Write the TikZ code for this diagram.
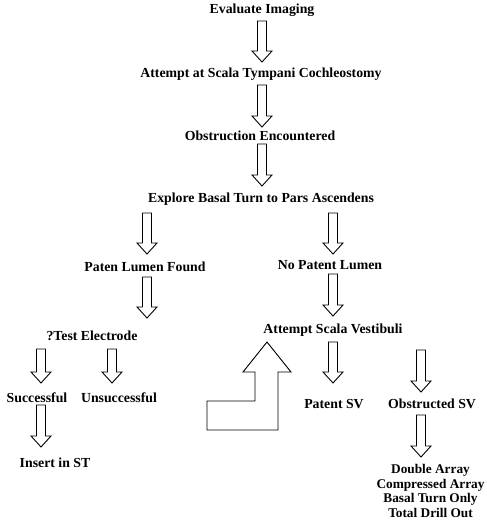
\documentclass[tikz,border=0pt]{standalone}
\usepackage{fontspec}
\setmainfont{Liberation Serif}
\newcommand\darr[3]{\draw[blk] (#1-4.5,#2) -- (#1+4.5,#2) -- (#1+4.5,#3-11) -- (#1+10,#3-11) -- (#1,#3) -- (#1-10,#3-11) -- (#1-4.5,#3-11) -- cycle;}
\begin{document}
\begin{tikzpicture}[x=1pt,y=-1pt,
  lbl/.style={font=\fontsize{13.8}{14}\selectfont\bfseries, inner sep=0pt, anchor=base},
  blk/.style={draw=black, line width=0.9pt, line join=miter, fill=white}]
\useasboundingbox (0,0) rectangle (487,525);
\node[lbl] (ev) at (262,13) {Evaluate Imaging};
\node[lbl] (at) at (261,77) {Attempt at Scala Tympani Cochleostomy};
\node[lbl] (ob) at (260,140) {Obstruction Encountered};
\node[lbl] (ex) at (261,202) {Explore Basal Turn to Pars Ascendens};
\node[lbl] (pl) at (145,271) {Paten Lumen Found};
\node[lbl] (np) at (330,269) {No Patent Lumen};
\node[lbl] (te) at (92,340) {?Test Electrode};
\node[lbl] (sv) at (333,333) {Attempt Scala Vestibuli};
\node[lbl] (su) at (37,402) {Successful};
\node[lbl] (un) at (119,402) {Unsuccessful};
\node[lbl] (ins) at (55,467) {Insert in ST};
\node[lbl] (psv) at (334,408) {Patent SV};
\node[lbl] (osv) at (432,408) {Obstructed SV};
\node[lbl, font=\fontsize{13.3}{14.7}\selectfont\bfseries, anchor=north, align=center] (opt) at (430.5,464) {Double Array\\Compressed Array\\Basal Turn Only\\Total Drill Out};
\darr{262}{21}{62}
\darr{262}{85}{127}
\darr{262}{144}{186}
\darr{147}{213}{254}
\darr{333}{213}{254}
\darr{147}{277}{318}
\darr{333}{274}{316}
\darr{41}{349}{383}
\darr{112}{349}{383}
\darr{41}{405}{447}
\darr{333}{342}{383}
\darr{421}{350}{392}
\darr{421}{415}{457}
\draw[blk] (267,342) -- (291,372) -- (278,372) -- (278,430) -- (207,430) -- (207,401) -- (255,401) -- (255,372) -- (243,372) -- cycle;
\end{tikzpicture}
\end{document}
